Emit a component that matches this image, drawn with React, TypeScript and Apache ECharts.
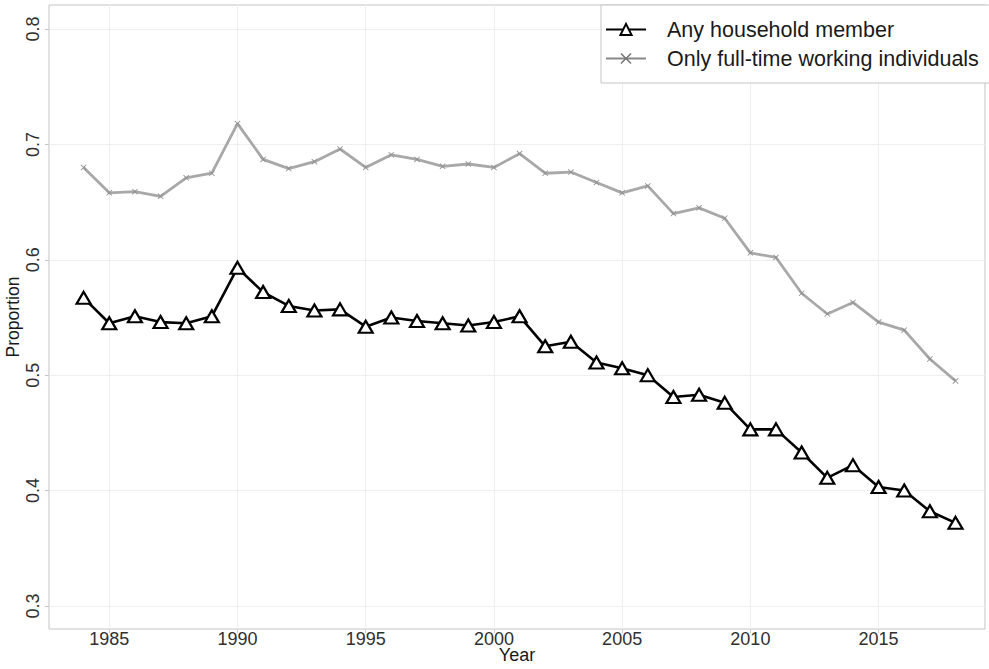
import { useEffect, useRef } from "react";
import * as echarts from "echarts";

const years = [
  1984, 1985, 1986, 1987, 1988, 1989, 1990, 1991, 1992, 1993, 1994, 1995,
  1996, 1997, 1998, 1999, 2000, 2001, 2002, 2003, 2004, 2005, 2006, 2007,
  2008, 2009, 2010, 2011, 2012, 2013, 2014, 2015, 2016, 2017, 2018,
];

const anyMember = [
  0.567, 0.545, 0.551, 0.546, 0.545, 0.551, 0.593, 0.572, 0.56, 0.556, 0.557,
  0.542, 0.55, 0.547, 0.545, 0.543, 0.546, 0.551, 0.525, 0.529, 0.511, 0.506,
  0.5, 0.481, 0.483, 0.476, 0.453, 0.453, 0.433, 0.411, 0.422, 0.403, 0.4,
  0.382, 0.372,
];

const fullTime = [
  0.68, 0.658, 0.659, 0.655, 0.671, 0.675, 0.718, 0.687, 0.679, 0.685, 0.696,
  0.68, 0.691, 0.687, 0.681, 0.683, 0.68, 0.692, 0.675, 0.676, 0.667, 0.658,
  0.664, 0.64, 0.645, 0.636, 0.606, 0.602, 0.571, 0.553, 0.563, 0.546, 0.539,
  0.514, 0.495,
];

const xTicks = [1985, 1990, 1995, 2000, 2005, 2010, 2015];
const yTicks = [0.3, 0.4, 0.5, 0.6, 0.7, 0.8];

const FONT = "'Liberation Sans', Arial, Helvetica, sans-serif";
const CROSS =
  "path://M1,0 L5,4 L9,0 L10,1 L6,5 L10,9 L9,10 L5,6 L1,10 L0,9 L4,5 L0,1 Z";

export default function App() {
  const ref = useRef<HTMLDivElement>(null);
  useEffect(() => {
    const chart = echarts.init(ref.current!, null, { renderer: "svg" });
    chart.setOption({
      animation: false,
      backgroundColor: "#ffffff",
      textStyle: { fontFamily: FONT },
      grid: {
        left: 49,
        right: 4,
        top: 5,
        bottom: 40,
        containLabel: false,
        outerBoundsMode: "none",
        show: true,
        borderColor: "#c4c4c4",
        borderWidth: 1,
        backgroundColor: "transparent",
      },
      legend: {
        orient: "vertical",
        left: 601,
        top: 5,
        padding: [12, 14, 12, 4],
        itemGap: 4,
        itemWidth: 40,
        itemHeight: 14,
        backgroundColor: "#ffffff",
        borderColor: "#c4c4c4",
        borderWidth: 1,
        borderRadius: 0,
        textStyle: {
          fontFamily: FONT,
          fontSize: 21.5,
          color: "#1a1a1a",
          lineHeight: 25,
          padding: [0, 0, 0, 16],
        },
        data: [
          { name: "Any household member" },
          {
            name: "Only full-time working individuals",
            lineStyle: { color: "#888888" },
            itemStyle: { color: "#777777" },
          },
        ],
      },
      xAxis: {
        type: "value",
        min: 1982.65,
        max: 2019.15,
        name: "Year",
        nameLocation: "middle",
        nameGap: 17,
        nameMoveOverlap: false,
        nameTextStyle: {
          fontFamily: FONT,
          fontSize: 18,
          color: "#1a1a1a",
          verticalAlign: "top",
        },
        axisLine: { show: false },
        axisTick: {
          show: true,
          length: 4,
          customValues: xTicks,
          lineStyle: { color: "#d0d0d0" },
        },
        axisLabel: {
          customValues: xTicks,
          fontFamily: FONT,
          fontSize: 18,
          color: "#303030",
          margin: 1,
          formatter: (v: number) => String(v),
        },
        splitLine: { show: true, lineStyle: { color: "#efefef", width: 1 } },
      },
      yAxis: {
        type: "value",
        min: 0.28,
        max: 0.8208,
        name: "Proportion",
        nameLocation: "middle",
        nameGap: 27,
        nameMoveOverlap: false,
        nameRotate: 90,
        nameTextStyle: { fontFamily: FONT, fontSize: 17.5, color: "#1a1a1a" },
        axisLine: { show: false },
        axisTick: {
          show: true,
          length: 4,
          customValues: yTicks,
          lineStyle: { color: "#c4c4c4" },
        },
        axisLabel: {
          customValues: yTicks,
          rotate: 90,
          fontFamily: FONT,
          fontSize: 18,
          color: "#303030",
          margin: 7,
          formatter: (v: number) => v.toFixed(1),
        },
        splitLine: { show: true, lineStyle: { color: "#efefef", width: 1 } },
      },
      series: [
        {
          name: "Only full-time working individuals",
          type: "line",
          data: years.map((y, i) => [y, fullTime[i]]),
          symbol: CROSS,
          symbolSize: 6,
          showAllSymbol: true,
          lineStyle: { color: "#a8a8a8", width: 2.8 },
          itemStyle: { color: "#909090" },
          z: 2,
        },
        {
          name: "Any household member",
          type: "line",
          data: years.map((y, i) => [y, anyMember[i]]),
          symbol: "triangle",
          symbolSize: [14, 12],
          showAllSymbol: true,
          lineStyle: { color: "#000000", width: 2.6 },
          itemStyle: { color: "#ffffff", borderColor: "#000000", borderWidth: 2.2 },
          z: 3,
        },
      ],
    });
    return () => chart.dispose();
  }, []);
  return (
    <div
      ref={ref}
      style={{ position: "absolute", left: 0, top: 0, width: 989, height: 669 }}
    />
  );
}
